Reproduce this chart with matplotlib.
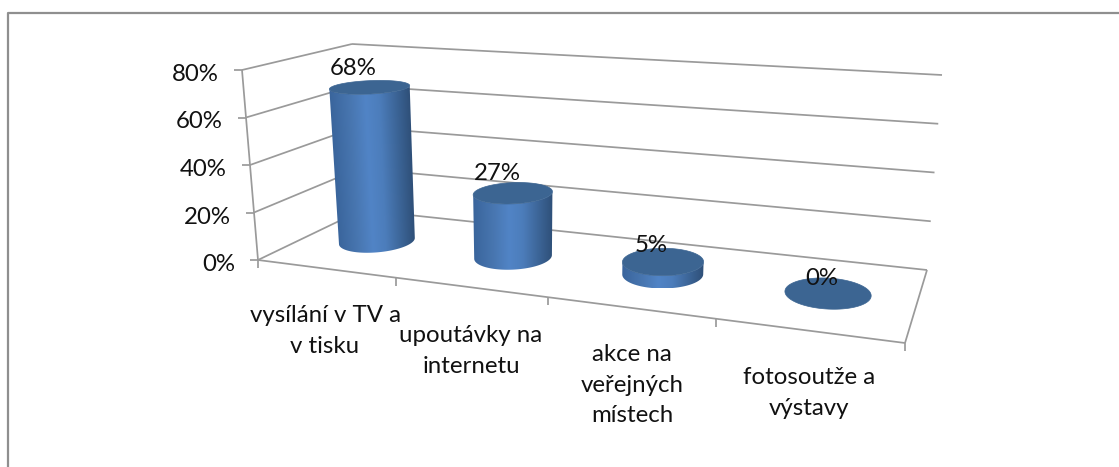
import numpy as np
import matplotlib
matplotlib.use("Agg")
import matplotlib.pyplot as plt
from matplotlib.colors import LinearSegmentedColormap
from matplotlib.patches import Polygon

categories = ["vysílání v TV a\nv tisku", "upoutávky na\ninternetu", "akce na\nveřejných\nmístech", "fotosoutže a\nvýstavy"]
values = [68, 27, 5, 0]
value_ticks = [0, 20, 40, 60, 80]
value_max = 80

plt.rcParams["font.family"] = ["Lato", "DejaVu Sans"]
FS = 17.3
GRID = "#9a9a9a"
FRAME = "#8f8f8f"
TOP = "#3c6592"
side_cmap = LinearSegmentedColormap.from_list("side", [
    (0.0, "#3a659c"), (0.25, "#4876b0"), (0.45, "#5184c6"), (0.62, "#4c7dbb"),
    (0.85, "#3a6293"), (1.0, "#2f5079")])

W, H = 1119, 467
fig = plt.figure(figsize=(W / 100, H / 100), dpi=100, facecolor="white")
ax = fig.add_axes([0, 0, 1, 1])
ax.axis("off")

# scene box in figure pixels: front-left, front-right, back-right, back-left
FLOOR = np.array([(258, 260), (905, 343), (927, 270), (362, 210)], float)
CEIL = np.array([(242, 70), (900, 110), (942, 75), (352, 44)], float)


def homography(quad):
    src = [(0, 0), (1, 0), (1, 1), (0, 1)]
    A, b = [], []
    for (u, v), (x, y) in zip(src, quad):
        A.append([u, v, 1, 0, 0, 0, -u * x, -v * x])
        A.append([0, 0, 0, u, v, 1, -u * y, -v * y])
        b += [x, y]
    return np.append(np.linalg.solve(np.array(A), np.array(b)), 1).reshape(3, 3)


HF, HC = homography(FLOOR), homography(CEIL)


def proj(u, v, val):
    u, v = np.asarray(u, float), np.asarray(v, float)
    p = np.stack([u, v, np.ones_like(u)])
    f, c = HF @ p, HC @ p
    f, c = f[:2] / f[2], c[:2] / c[2]
    s = val / value_max
    return f + (c - f) * s


def seg(p, q, color=GRID, lw=1.25, z=1):
    ax.plot([p[0], q[0]], [p[1], q[1]], color=color, lw=lw, zorder=z, solid_capstyle="butt")


# outer frame: left and top edges only
ax.plot([8, 8, W], [H, 13, 13], color=FRAME, lw=1.6, zorder=0)

# walls and gridlines
for t_val in value_ticks:
    fl, bl, br = proj(0, 0, t_val), proj(0, 1, t_val), proj(1, 1, t_val)
    seg(fl, bl)
    seg(bl, br)
    seg(fl + np.array([-8, 0]), fl)
    ax.text(fl[0] - 23, fl[1] + 4.5, f"{t_val}%", ha="right", va="center", fontsize=FS, color="#111111", zorder=6)
seg(proj(0, 0, 0), proj(0, 0, value_max))
seg(proj(0, 0, 0), proj(1, 0, 0))
seg(proj(1, 0, 0), proj(1, 1, 0))

# ticks on the category edge
for k in range(len(categories) + 1):
    p = proj(k / len(categories), 0, 0)
    seg(p, p + np.array([0, 8]))

# cylinders
ru, rv = 0.061, 0.215
label_offset = [(-17, -19), (-16, -20), (-12, -16), (-6, -15)]
cat_label_pos = [(325, 331), (471, 351), (632, 385), (809, 393)]
for i, (cat, val) in enumerate(zip(categories, values)):
    uc = (i + 0.5) / len(categories)
    vc = 0.5
    th = np.linspace(0, 2 * np.pi, 721)
    ub, vb = uc + ru * np.cos(th), vc + rv * np.sin(th)
    b, t = proj(ub, vb, 0), proj(ub, vb, val)
    if val > 0:
        L, R = np.argmin(b[0] + t[0]), np.argmax(b[0] + t[0])
        idx = np.arange(len(th))
        order = np.roll(idx, -L)[: ((R - L) % 720) + 1]
        other = np.roll(idx, -R)[: ((L - R) % 720) + 1]
        if b[1][order].mean() < b[1][other].mean():
            order = other[::-1]
        # silhouette: near arc at the base, then the same arc at the top
        xs = np.r_[b[0][order], t[0][order][::-1]]
        ys = np.r_[b[1][order], t[1][order][::-1]]
        clip = Polygon(np.c_[xs, ys], closed=True, transform=ax.transData, fc="none", ec="none")
        ax.add_patch(clip)
        x0, x1, y0, y1 = xs.min(), xs.max(), ys.min(), ys.max()
        gx, gy = np.meshgrid(np.linspace(x0, x1, 200), np.linspace(y0, y1, 120))
        s = (gy - t[1][L]) / max(b[1][L] - t[1][L], 1)
        left = t[0][L] + (b[0][L] - t[0][L]) * s
        right = t[0][R] + (b[0][R] - t[0][R]) * s
        frac = np.clip((gx - left) / (right - left), 0, 1)
        im = ax.imshow(side_cmap(frac), extent=(x0, x1, y1, y0), origin="upper", aspect="auto",
                       interpolation="bilinear", zorder=3 + i / 10)
        im.set_clip_path(clip)
    ax.fill(t[0], t[1], color=TOP, lw=0.5, zorder=3.05 + i / 10)
    ax.text(t[0].mean() + label_offset[i][0], t[1].mean() + label_offset[i][1], f"{val}%",
            ha="center", va="center", fontsize=FS, color="#111111", zorder=7)
    ax.text(cat_label_pos[i][0], cat_label_pos[i][1], cat, ha="center", va="center",
            fontsize=FS, color="#111111", linespacing=1.55, zorder=7)

ax.set_xlim(0, W)
ax.set_ylim(H, 0)
fig.savefig("out.png", dpi=100, facecolor="white")
